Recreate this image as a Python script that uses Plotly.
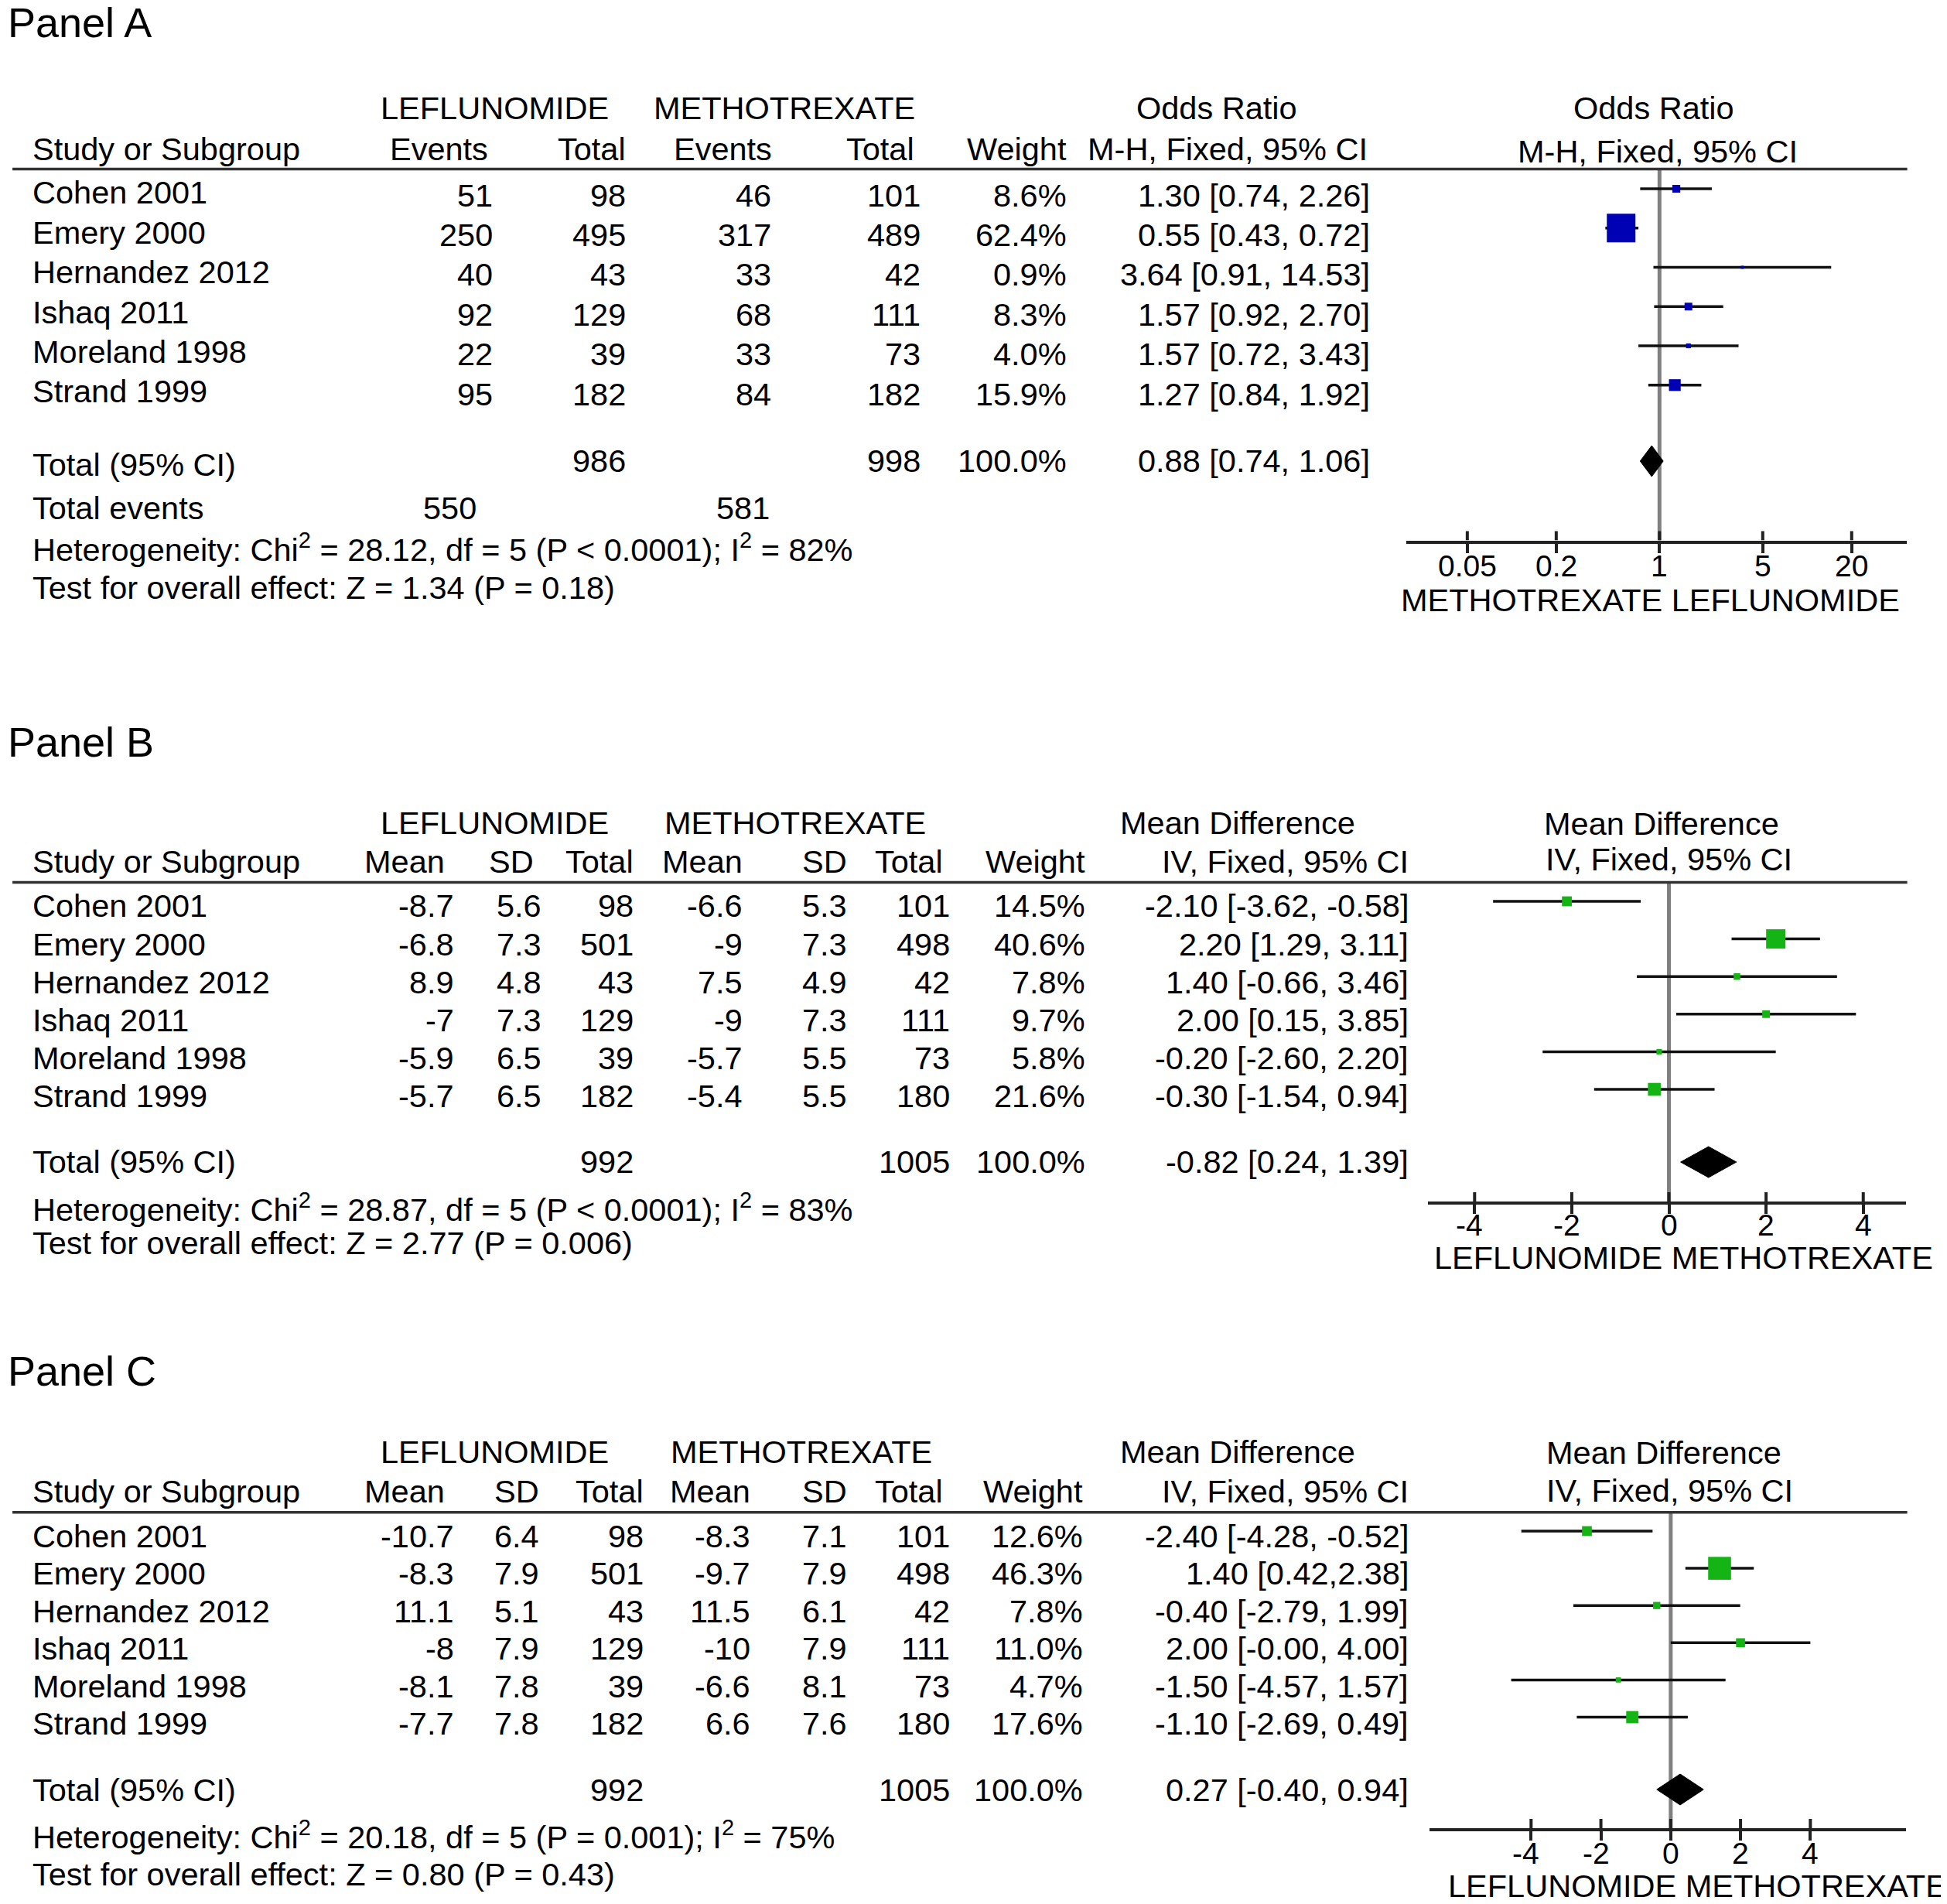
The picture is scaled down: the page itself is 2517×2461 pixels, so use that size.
import math
import plotly.graph_objects as go

# ---------------- DATA ----------------
studies = ["Cohen 2001", "Emery 2000", "Hernandez 2012", "Ishaq 2011", "Moreland 1998", "Strand 1999"]

# Panel A (Odds ratio)
a_lef_events = [51, 250, 40, 92, 22, 95]
a_lef_total = [98, 495, 43, 129, 39, 182]
a_mtx_events = [46, 317, 33, 68, 33, 84]
a_mtx_total = [101, 489, 42, 111, 73, 182]
a_weight = [8.6, 62.4, 0.9, 8.3, 4.0, 15.9]
a_est = [1.30, 0.55, 3.64, 1.57, 1.57, 1.27]
a_lo = [0.74, 0.43, 0.91, 0.92, 0.72, 0.84]
a_hi = [2.26, 0.72, 14.53, 2.70, 3.43, 1.92]
a_tot_lef, a_tot_mtx, a_tot_w = 986, 998, 100.0
a_tot_est, a_tot_lo, a_tot_hi = 0.88, 0.74, 1.06
a_events_lef, a_events_mtx = 550, 581
a_het = "Heterogeneity: Chi<sup>2</sup> = 28.12, df = 5 (P &lt; 0.0001); I<sup>2</sup> = 82%"
a_test = "Test for overall effect: Z = 1.34 (P = 0.18)"
a_ticks = [0.05, 0.2, 1, 5, 20]
a_ticktext = ["0.05", "0.2", "1", "5", "20"]

# Panel B (Mean difference)
b_lef_mean = [-8.7, -6.8, 8.9, -7, -5.9, -5.7]
b_lef_sd = [5.6, 7.3, 4.8, 7.3, 6.5, 6.5]
b_lef_total = [98, 501, 43, 129, 39, 182]
b_mtx_mean = [-6.6, -9, 7.5, -9, -5.7, -5.4]
b_mtx_sd = [5.3, 7.3, 4.9, 7.3, 5.5, 5.5]
b_mtx_total = [101, 498, 42, 111, 73, 180]
b_weight = [14.5, 40.6, 7.8, 9.7, 5.8, 21.6]
b_est = [-2.10, 2.20, 1.40, 2.00, -0.20, -0.30]
b_lo = [-3.62, 1.29, -0.66, 0.15, -2.60, -1.54]
b_hi = [-0.58, 3.11, 3.46, 3.85, 2.20, 0.94]
b_tot_lef, b_tot_mtx, b_tot_w = 992, 1005, 100.0
b_tot_est, b_tot_lo, b_tot_hi = -0.82, 0.24, 1.39
b_het = "Heterogeneity: Chi<sup>2</sup> = 28.87, df = 5 (P &lt; 0.0001); I<sup>2</sup> = 83%"
b_test = "Test for overall effect: Z = 2.77 (P = 0.006)"

# Panel C (Mean difference)
c_lef_mean = [-10.7, -8.3, 11.1, -8, -8.1, -7.7]
c_lef_sd = [6.4, 7.9, 5.1, 7.9, 7.8, 7.8]
c_lef_total = [98, 501, 43, 129, 39, 182]
c_mtx_mean = [-8.3, -9.7, 11.5, -10, -6.6, 6.6]
c_mtx_sd = [7.1, 7.9, 6.1, 7.9, 8.1, 7.6]
c_mtx_total = [101, 498, 42, 111, 73, 180]
c_weight = [12.6, 46.3, 7.8, 11.0, 4.7, 17.6]
c_est = [-2.40, 1.40, -0.40, 2.00, -1.50, -1.10]
c_lo = [-4.28, 0.42, -2.79, -0.00, -4.57, -2.69]
c_hi = [-0.52, 2.38, 1.99, 4.00, 1.57, 0.49]
c_ci_text = ["-2.40 [-4.28, -0.52]", "1.40 [0.42,2.38]", "-0.40 [-2.79, 1.99]",
             "2.00 [-0.00, 4.00]", "-1.50 [-4.57, 1.57]", "-1.10 [-2.69, 0.49]"]
c_tot_lef, c_tot_mtx, c_tot_w = 992, 1005, 100.0
c_tot_est, c_tot_lo, c_tot_hi = 0.27, -0.40, 0.94
c_het = "Heterogeneity: Chi<sup>2</sup> = 20.18, df = 5 (P = 0.001); I<sup>2</sup> = 75%"
c_test = "Test for overall effect: Z = 0.80 (P = 0.43)"

md_ticks = [-4, -2, 0, 2, 4]
md_ticktext = ["-4", "-2", "0", "2", "4"]

# ---------------- LAYOUT HELPERS ----------------
W, H = 2517, 2461
S = W / 1567.0
OFF = 8  # page body margin
FONT = "Liberation Sans, Arial, sans-serif"
FS = 41.5
TICK_FS = 39

fig = go.Figure()
annotations = []
shapes = []


def PX(xf):
    return (xf - OFF) / W


def PY(yf):
    return 1 - (yf - OFF) / H


def ann(text, xd, yd, anchor="left", size=FS):
    annotations.append(dict(text=text, x=PX(xd * S), y=PY(yd * S), xref="paper", yref="paper",
                            xanchor=anchor, yanchor="middle", showarrow=False,
                            font=dict(family=FONT, size=size, color="black")))


def hline(yd, x0d=10, x1d=1535):
    shapes.append(dict(type="line", xref="paper", yref="paper", x0=PX(x0d * S), x1=PX(x1d * S),
                       y0=PY(yd * S), y1=PY(yd * S), line=dict(color="#333333", width=3.5)))


def fmt(v):
    return f"{v:g}"


def fmt_ci(e, l, h):
    return f"{e:.2f} [{l:.2f}, {h:.2f}]"


# ---------------- PANEL A TABLE ----------------
ann("Panel A", 5, 18, size=54)
ann("LEFLUNOMIDE", 398, 87, "center")
ann("METHOTREXATE", 631, 87, "center")
ann("Odds Ratio", 979, 87, "center")
ann("Odds Ratio", 1331, 87, "center")
ann("Study or Subgroup", 25, 120)
ann("Events", 353, 120, "center")
ann("Total", 505, 120, "right")
ann("Events", 582, 120, "center")
ann("Total", 737, 120, "right")
ann("Weight", 860, 120, "right")
ann("M-H, Fixed, 95% CI", 1102, 120, "right")
ann("M-H, Fixed, 95% CI", 1334, 122, "center")
hline(136)
for i, s in enumerate(studies):
    y = 155 + i * 32
    ann(s, 25, y)
    cols = [(str(a_lef_events[i]), 398), (str(a_lef_total[i]), 505), (str(a_mtx_events[i]), 622),
            (str(a_mtx_total[i]), 742), (f"{a_weight[i]:.1f}%", 860),
            (fmt_ci(a_est[i], a_lo[i], a_hi[i]), 1104)]
    for t, xr in cols:
        ann(t, xr, y + 2, "right")
ann("Total (95% CI)", 25, 374)
ann(str(a_tot_lef), 505, 371, "right")
ann(str(a_tot_mtx), 742, 371, "right")
ann(f"{a_tot_w:.1f}%", 860, 371, "right")
ann(fmt_ci(a_tot_est, a_tot_lo, a_tot_hi), 1104, 371, "right")
ann("Total events", 25, 409)
ann(str(a_events_lef), 385, 409, "right")
ann(str(a_events_mtx), 621, 409, "right")
ann(a_het, 25, 441)
ann(a_test, 25, 473)


# ---------------- PANEL B / C TABLES ----------------
def md_table(label, ly, h1, h2, line_y, row0, step, data, num_x, head_x, tot_y, tot, het, test, het_y, test_y,
             mtx_cx, right_h1, right_h2):
    ann(label, 5, ly, size=54)
    ann("LEFLUNOMIDE", 398, h1, "center")
    ann("METHOTREXATE", mtx_cx, h1, "center")
    ann("Mean Difference", 996, h1, "center")
    ann("Mean Difference", right_h1[0], right_h1[1], "center")
    ann("Study or Subgroup", 25, h2)
    for t, xr in zip(["Mean", "SD", "Total", "Mean", "SD", "Total", "Weight", "IV, Fixed, 95% CI"], head_x):
        ann(t, xr, h2, "right")
    ann("IV, Fixed, 95% CI", right_h2[0], right_h2[1], "center")
    hline(line_y)
    for i, s in enumerate(studies):
        y = row0 + i * step
        ann(s, 25, y)
        for t, xr in zip([c[i] for c in data], num_x):
            ann(t, xr, y, "right")
    ann("Total (95% CI)", 25, tot_y)
    for t, xr in zip(tot, [num_x[2], num_x[5], num_x[6], num_x[7]]):
        ann(t, xr, tot_y, "right")
    ann(het, 25, het_y)
    ann(test, 25, test_y)


b_data = [[fmt(v) for v in b_lef_mean], [fmt(v) for v in b_lef_sd], [str(v) for v in b_lef_total],
          [fmt(v) for v in b_mtx_mean], [fmt(v) for v in b_mtx_sd], [str(v) for v in b_mtx_total],
          [f"{w:.1f}%" for w in b_weight], [fmt_ci(e, l, h) for e, l, h in zip(b_est, b_lo, b_hi)]]
md_table("Panel B", 597, 662, 693, 710, 729, 30.6, b_data,
         [367, 437, 511, 599, 683, 766, 875, 1135], [359, 431, 511, 599, 683, 760, 875, 1135],
         935, [str(b_tot_lef), str(b_tot_mtx), f"{b_tot_w:.1f}%", fmt_ci(b_tot_est, b_tot_lo, b_tot_hi)],
         b_het, b_test, 972, 1000, 640, (1337, 662.5), (1343, 691.5))

c_data = [[fmt(v) for v in c_lef_mean], [fmt(v) for v in c_lef_sd], [str(v) for v in c_lef_total],
          [fmt(v) for v in c_mtx_mean], [fmt(v) for v in c_mtx_sd], [str(v) for v in c_mtx_total],
          [f"{w:.1f}%" for w in c_weight], c_ci_text]
md_table("Panel C", 1103, 1168, 1200, 1217, 1236, 30.2, c_data,
         [367, 435, 519, 605, 683, 766, 873, 1135], [359, 435, 519, 605, 683, 760, 873, 1135],
         1440, [str(c_tot_lef), str(c_tot_mtx), f"{c_tot_w:.1f}%", fmt_ci(c_tot_est, c_tot_lo, c_tot_hi)],
         c_het, c_test, 1477, 1508, 645, (1339, 1169), (1344, 1199.6))

# ---------------- FOREST PLOTS ----------------
panels = [
    dict(n="", est=a_est, lo=a_lo, hi=a_hi, w=a_weight, tot=(a_tot_lo, a_tot_hi), log=True,
         xdom=(1818, 2465), top=218, axis=698.6, row0=244, step=50.75, toty=596, ticky=731,
         xr=[-1.714, 1.674], ref=1, ticks=a_ticks, ticktext=a_ticktext, color="#0000b4", maxsize=37,
         xlabel="METHOTREXATE LEFLUNOMIDE", lab=(1328, 482.5)),
    dict(n="2", est=b_est, lo=b_lo, hi=b_hi, w=b_weight, tot=(b_tot_lo, b_tot_hi), log=False,
         xdom=(1846, 2464), top=1140, axis=1553, row0=1165, step=48.6, toty=1502, ticky=1583,
         xr=[-4.96, 4.88], ref=0, ticks=md_ticks, ticktext=md_ticktext, color="#14b414", maxsize=25,
         xlabel="LEFLUNOMIDE METHOTREXATE", lab=(1355, 1012)),
    dict(n="3", est=c_est, lo=c_lo, hi=c_hi, w=c_weight, tot=(c_tot_lo, c_tot_hi), log=False,
         xdom=(1848, 2464), top=1953, axis=2363, row0=1979, step=48.1, toty=2313, ticky=2395,
         xr=[-6.91, 6.74], ref=0, ticks=md_ticks, ticktext=md_ticktext, color="#14b414", maxsize=29.6,
         xlabel="LEFLUNOMIDE METHOTREXATE", lab=(1366, 1517.5)),
]

for p in panels:
    xa, ya = "x" + p["n"], "y" + p["n"]
    rows = [p["row0"] + i * p["step"] for i in range(len(p["est"]))]
    # reference line
    fig.add_trace(go.Scatter(x=[p["ref"], p["ref"]], y=[p["top"], p["axis"]], mode="lines",
                             line=dict(color="#808080", width=5), xaxis=xa, yaxis=ya, hoverinfo="skip"))
    # tick marks above axis
    tx, ty = [], []
    for t in p["ticks"]:
        tx += [t, t, None]
        ty += [p["axis"] - 12, p["axis"], None]
    fig.add_trace(go.Scatter(x=tx, y=ty, mode="lines", line=dict(color="#222222", width=4),
                             xaxis=xa, yaxis=ya, hoverinfo="skip"))
    # CI lines
    cx, cy = [], []
    for l, h, r in zip(p["lo"], p["hi"], rows):
        cx += [l, h, None]
        cy += [r, r, None]
    fig.add_trace(go.Scatter(x=cx, y=cy, mode="lines", line=dict(color="#111111", width=3.5),
                             xaxis=xa, yaxis=ya, hoverinfo="skip"))
    # squares
    wmax = max(p["w"])
    sizes = [max(4, p["maxsize"] * (w / wmax) ** 0.65) for w in p["w"]]
    fig.add_trace(go.Scatter(x=p["est"], y=rows, mode="markers",
                             marker=dict(symbol="square", size=sizes, color=p["color"], opacity=1,
                                         line=dict(width=0)),
                             xaxis=xa, yaxis=ya))
    # diamond
    lo, hi = p["tot"]
    mid = (lo * hi) ** 0.5 if p["log"] else (lo + hi) / 2
    hh = 20
    fig.add_trace(go.Scatter(x=[lo, mid, hi, mid, lo],
                             y=[p["toty"], p["toty"] - hh, p["toty"], p["toty"] + hh, p["toty"]],
                             mode="lines", fill="toself", fillcolor="black", line=dict(color="black", width=1),
                             xaxis=xa, yaxis=ya, hoverinfo="skip"))
    key_x = "xaxis" + p["n"]
    key_y = "yaxis" + p["n"]
    fig.update_layout(**{
        key_x: dict(domain=[PX(p["xdom"][0]), PX(p["xdom"][1])], anchor=ya,
                    type="log" if p["log"] else "linear", range=p["xr"],
                    tickvals=p["ticks"], showticklabels=False, ticks="outside", ticklen=12, tickwidth=4,
                    tickcolor="#222222", showline=True, linecolor="#222222", linewidth=4,
                    showgrid=False, zeroline=False),
        key_y: dict(domain=[PY(p["axis"]), PY(p["top"])], anchor=xa, range=[p["axis"], p["top"]],
                    visible=False, showgrid=False, zeroline=False),
    })
    # tick labels (digits centred on the tick, minus sign hanging to the left)
    for t, lab in zip(p["ticks"], p["ticktext"]):
        shift = -0.333 * TICK_FS / 2 if lab.startswith("-") else 0
        annotations.append(dict(text=lab, x=math.log10(t) if p["log"] else t, xref=xa, y=PY(p["ticky"]),
                                yref="paper", xanchor="center", yanchor="middle", showarrow=False,
                                xshift=shift, font=dict(family=FONT, size=TICK_FS, color="black")))
    ann(p["xlabel"], p["lab"][0], p["lab"][1], "center")

fig.update_layout(width=W, height=H, margin=dict(l=0, r=0, t=0, b=0), showlegend=False,
                  paper_bgcolor="white", plot_bgcolor="white",
                  annotations=annotations, shapes=shapes,
                  font=dict(family=FONT, size=FS, color="black"))

fig.write_html("out.html")
